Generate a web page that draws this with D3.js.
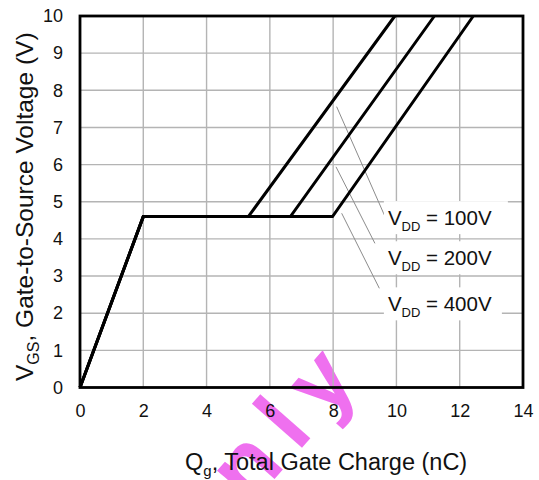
<!DOCTYPE html>
<html>
<head>
<meta charset="utf-8">
<script src="https://cdn.jsdelivr.net/npm/d3@7"></script>
<style>
  body { margin: 0; background: #fff; }
  svg { display: block; font-family: "Liberation Sans", Arial, sans-serif; }
</style>
</head>
<body>
<svg id="chart" width="539" height="480"></svg>
<script>
// gate charge curves
const qg_100 = [0, 2, 5.32, 9.95];
const qg_200 = [0, 2, 6.65, 11.2];
const qg_400 = [0, 2, 7.98, 12.43];
const vgs_pts = [0, 4.6, 4.6, 10];

const vdd_labels = ['100V', '200V', '400V'];
// label anchor (data units) and leader line from curve to label
const label_x = [9.73, 9.73, 9.73];
const label_y = [4.37, 3.29, 2.05];
const leader_from = [[8.11, 7.56], [8.09, 5.94], [8.27, 4.69]];
const leader_to = [[9.64, 4.6], [9.32, 3.88], [9.46, 2.67]];

const x_ticks = [0, 2, 4, 6, 8, 10, 12, 14];
const y_ticks = [0, 1, 2, 3, 4, 5, 6, 7, 8, 9, 10];

const svg = d3.select('#chart');
const x = d3.scaleLinear().domain([0, 14]).range([80, 523]);
const y = d3.scaleLinear().domain([0, 10]).range([387.5, 16]);

// watermark (behind everything)
svg.append('text')
  .attr('transform', 'translate(191,574) rotate(-48.7)')
  .attr('font-size', 92)
  .attr('font-weight', 'bold')
  .attr('letter-spacing', 17)
  .attr('fill', '#ef70ef')
  .text('Only');

// grid
svg.append('g').selectAll('line')
  .data(x_ticks.slice(1, -1))
  .enter().append('line')
  .attr('x1', d => x(d)).attr('x2', d => x(d))
  .attr('y1', y(0)).attr('y2', y(10))
  .attr('stroke', '#b4b4b4').attr('stroke-width', 1.4);
svg.append('g').selectAll('line')
  .data(y_ticks.slice(1, -1))
  .enter().append('line')
  .attr('x1', x(0)).attr('x2', x(14))
  .attr('y1', d => y(d)).attr('y2', d => y(d))
  .attr('stroke', '#b4b4b4').attr('stroke-width', 1.4);

// leader lines
svg.append('g').selectAll('line')
  .data(leader_from)
  .enter().append('line')
  .attr('x1', d => x(d[0])).attr('y1', d => y(d[1]))
  .attr('x2', (d, i) => x(leader_to[i][0])).attr('y2', (d, i) => y(leader_to[i][1]))
  .attr('stroke', '#8c8c8c').attr('stroke-width', 1);

// curves
const line = d3.line().x(d => x(d[0])).y(d => y(d[1]));
[qg_100, qg_200, qg_400].forEach(qs => {
  svg.append('path')
    .datum(qs.map((q, i) => [q, vgs_pts[i]]))
    .attr('d', line)
    .attr('fill', 'none')
    .attr('stroke', '#000')
    .attr('stroke-width', 3)
    .attr('stroke-linejoin', 'miter');
});

// labels with white boxes
const lab = svg.append('g').selectAll('g')
  .data(vdd_labels)
  .enter().append('g')
  .attr('transform', (d, i) => `translate(${x(label_x[i])},${y(label_y[i])})`);
lab.append('rect')
  .attr('x', -4).attr('y', -24)
  .attr('width', (d, i) => i === 0 ? 124 : 118).attr('height', 33)
  .attr('fill', '#fff');
const lt = lab.append('text').attr('font-size', 20.5).attr('fill', '#111');
lt.append('tspan').text('V');
lt.append('tspan').attr('font-size', 13).attr('dy', 6).text('DD');
lt.append('tspan').attr('dy', -6).text(d => ' = ' + d);

// frame
svg.append('rect')
  .attr('x', x(0)).attr('y', y(10))
  .attr('width', x(14) - x(0)).attr('height', y(0) - y(10))
  .attr('fill', 'none').attr('stroke', '#000').attr('stroke-width', 2.8);

// axes (labels only)
const xa = svg.append('g')
  .attr('transform', `translate(0,${y(0)})`)
  .call(d3.axisBottom(x).tickValues(x_ticks).tickSize(0).tickPadding(17));
const ya = svg.append('g')
  .attr('transform', `translate(${x(0)},0)`)
  .call(d3.axisLeft(y).tickValues(y_ticks).tickSize(0).tickPadding(17));
[xa, ya].forEach(a => {
  a.select('.domain').remove();
  a.selectAll('text').attr('font-size', 18).attr('fill', '#111')
    .attr('font-family', '"Liberation Sans", Arial, sans-serif');
});

// axis titles
const xt = svg.append('text')
  .attr('x', 185).attr('y', 470)
  .attr('font-size', 23.5).attr('fill', '#111');
xt.append('tspan').text('Q');
xt.append('tspan').attr('font-size', 15).attr('dy', 6).text('g');
xt.append('tspan').attr('dy', -6).text(', Total Gate Charge (nC)');

const yt = svg.append('text')
  .attr('transform', 'translate(33,381) rotate(-90)')
  .attr('font-size', 24.5).attr('fill', '#111');
yt.append('tspan').text('V');
yt.append('tspan').attr('font-size', 16).attr('dy', 6).text('GS');
yt.append('tspan').attr('dy', -6).text(', Gate-to-Source Voltage (V)');
</script>
</body>
</html>
